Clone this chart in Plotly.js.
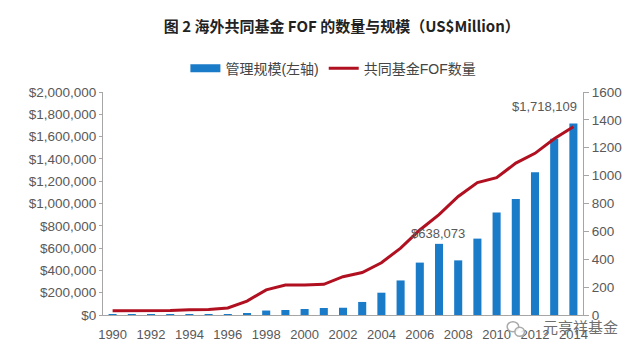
<!DOCTYPE html>
<html><head><meta charset="utf-8">
<script src="https://cdn.plot.ly/plotly-3.0.1.min.js"></script>
<style>html,body{margin:0;padding:0;background:#fff}</style></head>
<body><div id="chart" style="width:640px;height:355px"></div>
<script>
const years=[1990,1991,1992,1993,1994,1995,1996,1997,1998,1999,2000,2001,2002,2003,2004,2005,2006,2007,2008,2009,2010,2011,2012,2013,2014];
const aum=[6000,6000,7000,7000,7000,8000,9000,18000,40000,45000,54000,63000,65000,117000,200000,310000,470000,638073,490000,685000,920000,1040000,1280000,1580000,1718109];
const fofCount=[30,30,30,32,38,40,50,100,180,215,215,220,275,305,375,480,610,720,850,950,985,1090,1160,1265,1350];
const leftTicks=[0,200000,400000,600000,800000,1000000,1200000,1400000,1600000,1800000,2000000];
const rightTicks=[0,200,400,600,800,1000,1200,1400,1600];
const xTicks=[1990,1992,1994,1996,1998,2000,2002,2004,2006,2008,2010,2012,2014];
const grey='#595959', axisGrey='#a6a6a6';
const font='"Liberation Sans","Noto Sans CJK SC",sans-serif';
const traces=[
 {type:'bar',x:years,y:aum,name:'管理规模(左轴)',marker:{color:'#1a7bc9'},width:0.42,yaxis:'y',showlegend:false},
 {type:'scatter',mode:'lines',x:[null],y:[null],name:'管理规模(左轴)',line:{color:'#1a7bc9',width:8},yaxis:'y',hoverinfo:'skip'},
 {type:'scatter',mode:'lines',x:years,y:fofCount,name:'共同基金FOF数量',line:{color:'#b01020',width:3},yaxis:'y2'}
];
const layout={
 width:640,height:355,paper_bgcolor:'#fff',plot_bgcolor:'#fff',showlegend:true,
 margin:{l:103,r:57,t:92,b:40},
 font:{family:font,color:grey,size:13},
 title:{text:'<b>图 2 海外共同基金 FOF 的数量与规模（US$Million）</b>',x:0.534,xanchor:'center',y:0.925,yanchor:'middle',
   font:{family:'"Noto Sans CJK SC",serif',size:15,color:'#222'}},
 legend:{orientation:'h',x:0.48,xanchor:'center',xref:'paper',y:1.105,yanchor:'middle',font:{size:14,color:'#444'},itemwidth:30,tracegap:0},
 xaxis:{range:[1989.5,2014.5],tickmode:'array',tickvals:xTicks,ticktext:xTicks.map(String),ticks:'',ticklabelstandoff:7,showgrid:false,zeroline:false,showline:true,linecolor:axisGrey,linewidth:1,tickfont:{size:13,color:grey}},
 yaxis:{range:[0,2000000],tickmode:'array',tickvals:leftTicks,ticktext:leftTicks.map(v=>'$'+v.toLocaleString('en-US')),ticks:'outside',ticklen:3,tickcolor:axisGrey,showgrid:false,zeroline:false,showline:true,linecolor:axisGrey,linewidth:1,tickfont:{size:13.5,color:grey}},
 yaxis2:{overlaying:'y',side:'right',range:[0,1600],tickmode:'array',tickvals:rightTicks,ticktext:rightTicks.map(String),ticks:'outside',ticklen:5,tickcolor:axisGrey,showgrid:false,zeroline:false,showline:true,linecolor:axisGrey,linewidth:1,tickfont:{size:13.5,color:grey}},
 annotations:[
  {x:2007,y:638073,xref:'x',yref:'y',text:'$638,073',showarrow:false,yanchor:'bottom',yshift:1,xshift:-1,font:{size:13,color:grey}},
  {x:2014,y:1718109,xref:'x',yref:'y',text:'$1,718,109',showarrow:false,yanchor:'bottom',yshift:7,xshift:-29,font:{size:13,color:grey}},
  {xref:'paper',yref:'paper',x:1.077,y:-0.052,xanchor:'right',yanchor:'middle',text:'元亨祥基金',showarrow:false,font:{family:'"Noto Sans CJK SC",sans-serif',size:15,color:'#6e6e6e'}}
 ],
 shapes:[
  {type:'circle',xref:'paper',yref:'paper',x0:0.842,x1:0.866,y0:-0.075,y1:-0.03,line:{color:'#aaaaaa',width:1.5},fillcolor:'rgba(255,255,255,0.8)'},
  {type:'circle',xref:'paper',yref:'paper',x0:0.858,x1:0.878,y0:-0.095,y1:-0.055,line:{color:'#aaaaaa',width:1.5},fillcolor:'rgba(255,255,255,0.8)'}
 ]
};
Plotly.newPlot('chart',traces,layout,{displayModeBar:false,responsive:false});
</script></body></html>
